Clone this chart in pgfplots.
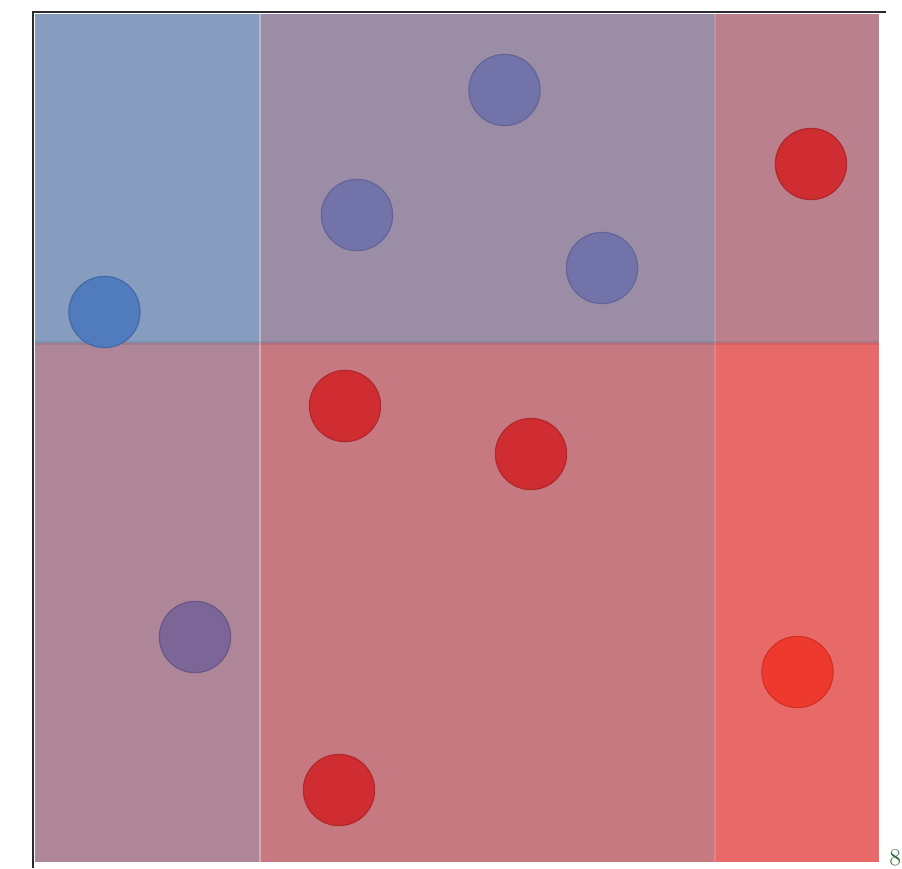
\documentclass[border=0pt]{standalone}
\usepackage{pgfplots}
\pgfplotsset{compat=1.18}
\definecolor{cTL}{HTML}{879DC0}
\definecolor{cTM}{HTML}{9C8DA7}
\definecolor{cTR}{HTML}{BA808E}
\definecolor{cBL}{HTML}{AE8698}
\definecolor{cBM}{HTML}{C77982}
\definecolor{cBR}{HTML}{E76A69}
\definecolor{pBlue}{HTML}{507CBE}
\definecolor{pBlueEdge}{HTML}{466AA3}
\definecolor{pSlate}{HTML}{7173A9}
\definecolor{pSlateEdge}{HTML}{62649A}
\definecolor{pPurple}{HTML}{7C6698}
\definecolor{pPurpleEdge}{HTML}{6A5686}
\definecolor{pRed}{HTML}{CF2D31}
\definecolor{pRedEdge}{HTML}{B0282C}
\definecolor{pBright}{HTML}{EE3A2E}
\definecolor{pBrightEdge}{HTML}{D63026}
\definecolor{frameC}{HTML}{2A2A30}
\definecolor{numC}{HTML}{2E6B3A}
\begin{document}
\begin{tikzpicture}
\begin{axis}[
  scale only axis, width=451pt, height=434pt,
  xmin=0, xmax=902, ymin=0, ymax=868, y dir=reverse,
  hide axis, clip=false,
]
% page background
\addplot[draw=none, fill=white] coordinates {(0,0) (902,0) (902,868) (0,868)} -- cycle;
% regions
\addplot[draw=none, fill=cTL] coordinates {(35,14) (260,14) (260,343) (35,343)} -- cycle;
\addplot[draw=none, fill=cTM] coordinates {(260,14) (715,14) (715,343) (260,343)} -- cycle;
\addplot[draw=none, fill=cTR] coordinates {(715,14) (879,14) (879,343) (715,343)} -- cycle;
\addplot[draw=none, fill=cBL] coordinates {(35,343) (260,343) (260,862) (35,862)} -- cycle;
\addplot[draw=none, fill=cBM] coordinates {(260,343) (715,343) (715,862) (260,862)} -- cycle;
\addplot[draw=none, fill=cBR] coordinates {(715,343) (879,343) (879,862) (715,862)} -- cycle;
% faint separators
\addplot[white, opacity=0.35, line width=1.2pt] coordinates {(260,14) (260,862)};
\addplot[white, opacity=0.15, line width=1pt] coordinates {(715,14) (715,862)};
\addplot[black, opacity=0.08, line width=2pt] coordinates {(35,343) (879,343)};
\addplot[white, opacity=0.5, line width=1.5pt] coordinates {(35,864) (879,864)};
\addplot[white, opacity=0.6, line width=1.5pt] coordinates {(881,14) (881,862)};
% frame
\addplot[frameC, line width=1pt] coordinates {(33,868) (33,12) (886,12)};
% points
\addplot[only marks, mark=*, mark size=17.8pt, mark options={fill=pBlue, draw=pBlueEdge, line width=0.6pt}] coordinates {(104.5,312)};
\addplot[only marks, mark=*, mark size=17.8pt, mark options={fill=pSlate, draw=pSlateEdge, line width=0.6pt}] coordinates {(504.5,90) (357,215) (602,268)};
\addplot[only marks, mark=*, mark size=17.8pt, mark options={fill=pPurple, draw=pPurpleEdge, line width=0.6pt}] coordinates {(195,637)};
\addplot[only marks, mark=*, mark size=17.8pt, mark options={fill=pRed, draw=pRedEdge, line width=0.6pt}] coordinates {(811,164) (345,406) (531,454) (339,790)};
\addplot[only marks, mark=*, mark size=17.8pt, mark options={fill=pBright, draw=pBrightEdge, line width=0.6pt}] coordinates {(797.5,672)};
\node[anchor=south west, inner sep=0pt, text=numC, font=\fontsize{12}{12}\selectfont] at (axis cs:889,866) {8};
\end{axis}
\end{tikzpicture}
\end{document}
